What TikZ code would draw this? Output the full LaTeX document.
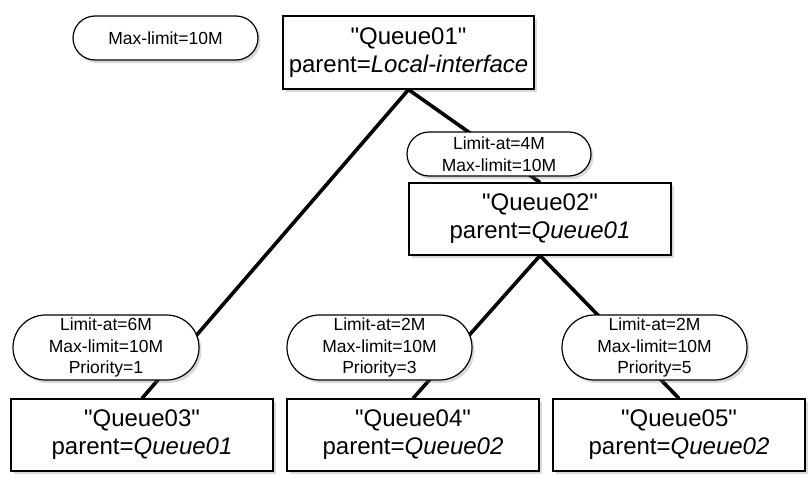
\documentclass[tikz,border=0pt]{standalone}
\usepackage{fontspec}
\setmainfont{Liberation Sans}[Ligatures=TeXOff]
\usepackage{tikz}
\usetikzlibrary{shapes.misc, shadows}

\begin{document}
\begin{tikzpicture}[x=1pt,y=-1pt]
	
	\tikzset{queue box/.style={
			draw, fill=white, line width=1.2pt,
			minimum width=#1, minimum height=72pt,
			inner sep=0pt, align=center,
			font=\fontsize{24}{28}\selectfont,
			drop shadow={opacity=0.3, shadow xshift=2.5pt, shadow yshift=-3pt}
		},
		queue box/.default=252pt,
		limit pill/.style={
			rounded rectangle, draw, fill=white, line width=1.2pt,
			minimum width=185pt, minimum height=#1,
			inner sep=0pt, align=center,
			font=\fontsize{17.5}{21.5}\selectfont,
			drop shadow={opacity=0.3, shadow xshift=2.5pt, shadow yshift=-3pt}
		},
		limit pill/.default=65pt,
		link/.style={line width=3.6pt}
	}
	
	\useasboundingbox (0,0) rectangle (812,485);
	
	\node[queue box=251pt, minimum height=73pt] (q1) at (408.5,52.5) {"Queue01"\\parent=\textit{Local-interface}};
	\node[queue box=262pt] (q2) at (540,219) {"Queue02"\\parent=\textit{Queue01}};
	\node[queue box=262pt] (q3) at (142,435) {"Queue03"\\parent=\textit{Queue01}};
	\node[queue box] (q4) at (413,435) {"Queue04"\\parent=\textit{Queue02}};
	\node[queue box] (q5) at (679,435) {"Queue05"\\parent=\textit{Queue02}};
	
	\draw[link] (q1.south) -- (q3.north);
	\draw[link] (q1.south) -- (q2.north);
	\draw[link] (q2.south) -- (q4.north);
	\draw[link] (q2.south) -- (q5.north);
	
	\node[limit pill=44pt] (lim1) at (165.5,38) {Max-limit=10M};
	\node[limit pill=44pt, minimum width=184pt] (lim2) at (499,154) {Limit-at=4M\\Max-limit=10M};
	\node[limit pill, minimum width=186pt] (lim3) at (106,347.5) {Limit-at=6M\\Max-limit=10M\\Priority=1};
	\node[limit pill] (lim4) at (379.5,347.5) {Limit-at=2M\\Max-limit=10M\\Priority=3};
	\node[limit pill] (lim5) at (654.5,347.5) {Limit-at=2M\\Max-limit=10M\\Priority=5};
	
\end{tikzpicture}
\end{document}
